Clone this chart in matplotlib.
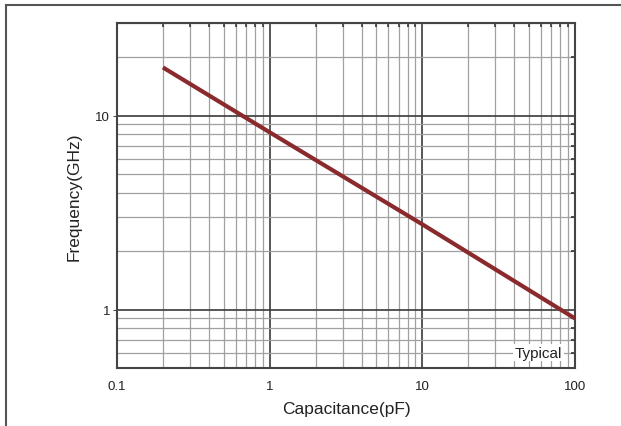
import matplotlib
matplotlib.use("Agg")
import matplotlib.pyplot as plt
from matplotlib.ticker import LogLocator, NullFormatter, FixedLocator, FixedFormatter
from matplotlib.lines import Line2D

# Data
capacitance_pf = [0.2, 1, 10, 100]
frequency_ghz = [17.7, 8.2, 2.75, 0.90]
x_tick_values = [0.1, 1, 10, 100]
x_tick_labels = ["0.1", "1", "10", "100"]
y_tick_values = [1, 10]
y_tick_labels = ["1", "10"]

plt.rcParams['font.family'] = ['Liberation Sans', 'DejaVu Sans']

fig = plt.figure(figsize=(6.21, 4.27), dpi=100)
ax = fig.add_axes([117/621, 1-369/427, (575-117)/621, (369-24)/427])

ax.set_xscale('log')
ax.set_yscale('log')
ax.set_xlim(0.1, 100)
ax.set_ylim(0.5, 30)

ax.plot(capacitance_pf, frequency_ghz, color='#8a2a2c', lw=3.0, solid_capstyle='butt', zorder=5)

ax.xaxis.set_major_locator(FixedLocator(x_tick_values))
ax.xaxis.set_major_formatter(FixedFormatter(x_tick_labels))
ax.yaxis.set_major_locator(FixedLocator(y_tick_values))
ax.yaxis.set_major_formatter(FixedFormatter(y_tick_labels))
ax.xaxis.set_minor_locator(LogLocator(base=10, subs=range(2, 10)))
ax.yaxis.set_minor_locator(LogLocator(base=10, subs=range(2, 10)))
ax.xaxis.set_minor_formatter(NullFormatter())
ax.yaxis.set_minor_formatter(NullFormatter())

ax.grid(which='major', color='#3a3a3a', lw=1.2)
ax.grid(which='minor', color='#a0a0a0', lw=0.9)
ax.set_axisbelow(True)

ax.tick_params(axis='both', which='major', labelsize=9.5, colors='#222222', length=3, width=0.6, pad=2)
ax.tick_params(axis='x', which='major', length=0, pad=9)
ax.tick_params(axis='both', which='minor', length=0)
ax.tick_params(axis='x', which='minor', top=True, bottom=False, direction='in', length=3, width=1.2, colors='#333333')
ax.tick_params(axis='y', which='minor', right=True, left=False, direction='in', length=3, width=1.2, colors='#333333')

for s in ax.spines.values():
    s.set_color('#444444')
    s.set_linewidth(1.5)

ax.set_xlabel('Capacitance(pF)', fontsize=12.5, color='#222222', labelpad=6)
ax.set_ylabel('Frequency(GHz)', fontsize=12.5, color='#222222', labelpad=10)

ax.text(0.972, 0.6, 'Typical', transform=ax.get_yaxis_transform(),
        ha='right', va='center', fontsize=11, color='#222222', zorder=6,
        bbox=dict(facecolor='white', edgecolor='none', pad=1))

# outer frame (top and left edges)
fig.add_artist(Line2D([6/621, 1], [1-6/427, 1-6/427], color='#555555', lw=1.5, transform=fig.transFigure))
fig.add_artist(Line2D([6/621, 6/621], [0, 1-6/427], color='#555555', lw=1.5, transform=fig.transFigure))

fig.savefig('out.png', dpi=100)
